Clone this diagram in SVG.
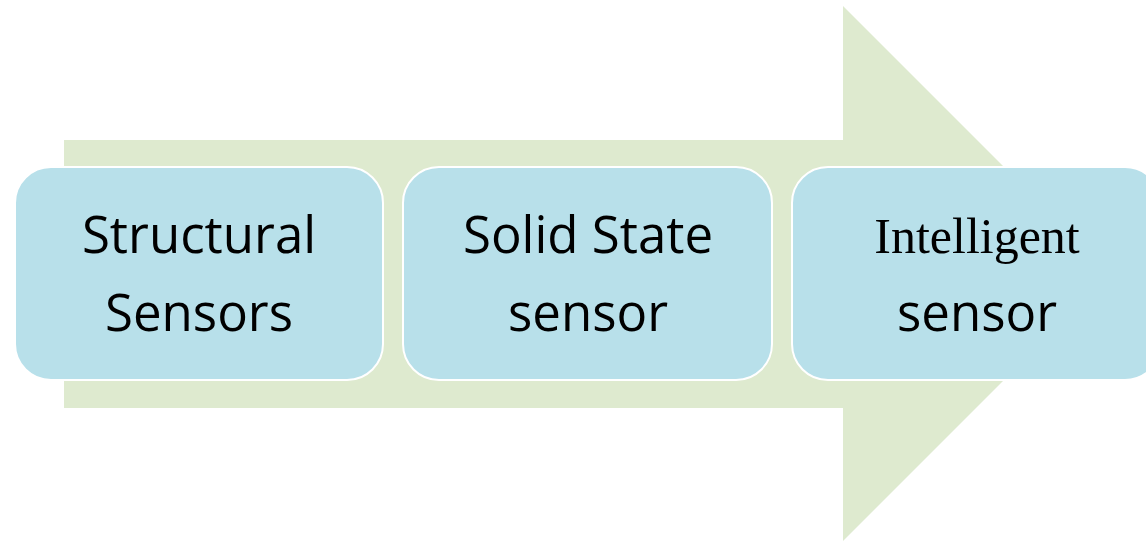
<svg xmlns="http://www.w3.org/2000/svg" width="1146" height="541" viewBox="0 0 1146 541">
  <style>
    .box { fill: #b8e0ea; stroke: #ffffff; stroke-width: 2; }
    .sans { font-family: "Open Sans", "Noto Sans", "Liberation Sans", sans-serif; font-size: 51px; fill: #000000; text-anchor: middle; }
    .serif { font-family: "Liberation Serif", "Times New Roman", serif; font-size: 50px; fill: #000000; text-anchor: middle; }
  </style>
  <rect width="1146" height="541" fill="#ffffff"/>
  <!-- background process arrow -->
  <g id="connectors">
    <polygon points="64,140 843,140 843,6 1110.5,273.5 843,541 843,408 64,408" fill="#deeacf"/>
  </g>
  <g id="node-structural">
    <rect class="box" x="15" y="167" width="368" height="213" rx="36" ry="36"/>
    <text class="sans" x="199" y="253">Structural</text>
    <text class="sans" x="199" y="331">Sensors</text>
  </g>
  <g id="node-solid-state">
    <rect class="box" x="403" y="167" width="369" height="213" rx="36" ry="36"/>
    <text class="sans" x="588" y="253">Solid State</text>
    <text class="sans" x="588" y="331">sensor</text>
  </g>
  <g id="node-intelligent">
    <rect class="box" x="792" y="167" width="369" height="213" rx="36" ry="36"/>
    <text class="serif" x="977" y="253">Intelligent</text>
    <text class="sans" x="977" y="331">sensor</text>
  </g>
</svg>
